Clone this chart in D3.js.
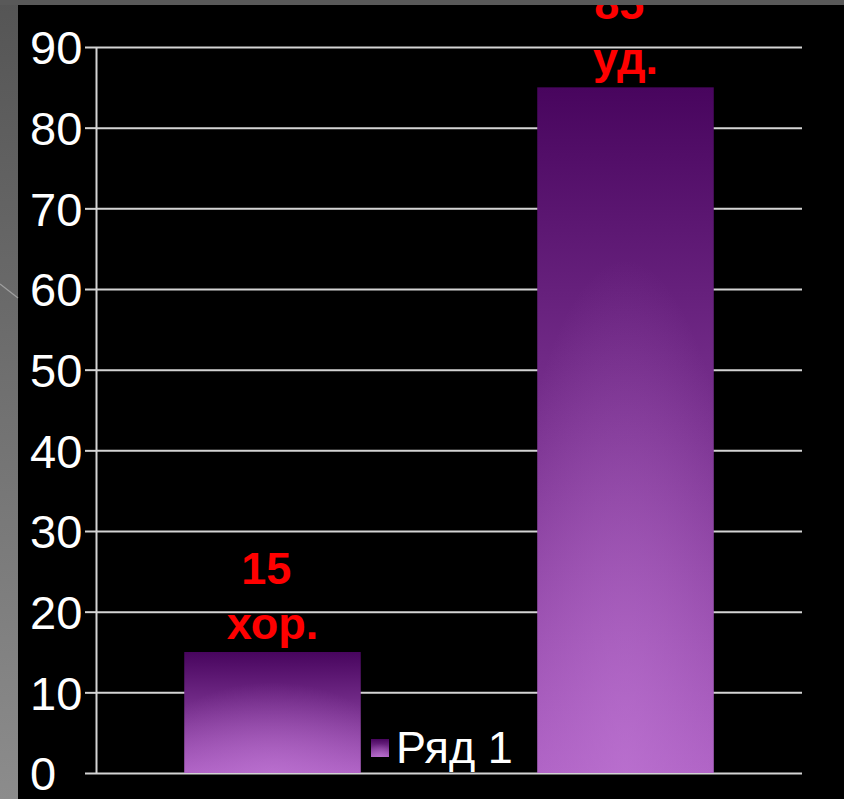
<!DOCTYPE html>
<html>
<head>
<meta charset="utf-8">
<script src="https://cdn.jsdelivr.net/npm/d3@7"></script>
<style>
  html, body { margin: 0; padding: 0; background: #000; }
  svg { display: block; }
  text { font-family: "Liberation Sans", Arial, sans-serif; }
</style>
</head>
<body>
<svg id="chart" width="844" height="799"></svg>
<script>
const categories = ["хор.", "уд."];
const values = [15, 85];
const valueLabels = ["15 ", "85 "];
const yTicks = [0, 10, 20, 30, 40, 50, 60, 70, 80, 90];
const seriesName = "Ряд 1";

(function () {
const W = 844, H = 799;
const svg = d3.select("#chart");

svg.append("rect").attr("width", W).attr("height", H).attr("fill", "#000");

const defs = svg.append("defs");
const lin = defs.append("linearGradient")
  .attr("id", "barLin").attr("x1", 0).attr("y1", 0).attr("x2", 0).attr("y2", 1);
lin.append("stop").attr("offset", "0%").attr("stop-color", "#48055e");
lin.append("stop").attr("offset", "100%").attr("stop-color", "#ad60c3");

const rad = defs.append("radialGradient")
  .attr("id", "barRad")
  .attr("cx", 0.5).attr("cy", 1).attr("r", 0.75)
  .attr("fx", 0.5).attr("fy", 1);
rad.append("stop").attr("offset", "0%").attr("stop-color", "#c27ad6").attr("stop-opacity", 0.55);
rad.append("stop").attr("offset", "100%").attr("stop-color", "#c27ad6").attr("stop-opacity", 0);

const stripGrad = defs.append("linearGradient")
  .attr("id", "stripGrad").attr("x1", 0).attr("y1", 0).attr("x2", 0).attr("y2", 1);
stripGrad.append("stop").attr("offset", "0%").attr("stop-color", "#555555");
stripGrad.append("stop").attr("offset", "100%").attr("stop-color", "#8c8c8c");

const pLeft = 96, pRight = 802, pTop = 47, pBottom = 773;

const y = d3.scaleLinear().domain([0, 90]).range([pBottom, pTop]);
const x = d3.scaleBand().domain(categories).range([pLeft, pRight])
  .paddingInner(0.5).paddingOuter(0.25);

// gridlines
const grid = svg.append("g").attr("transform", `translate(${pLeft},0)`)
  .call(d3.axisLeft(y).tickValues(yTicks).tickSize(-(pRight - pLeft)).tickFormat(""));
grid.select(".domain").remove();
grid.selectAll("line").attr("stroke", "#d4d4d4").attr("stroke-width", 2);

// y axis with tick marks and labels
const axis = svg.append("g").attr("transform", `translate(${pLeft},0)`)
  .call(d3.axisLeft(y).tickValues(yTicks).tickSize(11).tickSizeOuter(0));
axis.select(".domain").attr("stroke", "#d4d4d4").attr("stroke-width", 2);
axis.selectAll(".tick line").attr("stroke", "#d4d4d4").attr("stroke-width", 2);
axis.selectAll(".tick text")
  .attr("x", 30 - pLeft)
  .attr("dy", "0.36em")
  .attr("text-anchor", "start")
  .attr("fill", "#ffffff")
  .attr("font-size", 47)
  .attr("font-family", "'Liberation Sans', Arial, sans-serif");

// bars
const bars = svg.append("g").selectAll("g").data(values).join("g");
bars.append("rect")
  .attr("x", (d, i) => x(categories[i]))
  .attr("y", d => y(d))
  .attr("width", x.bandwidth())
  .attr("height", d => y(0) - y(d))
  .attr("fill", "url(#barLin)");
bars.append("rect")
  .attr("x", (d, i) => x(categories[i]))
  .attr("y", d => y(d))
  .attr("width", x.bandwidth())
  .attr("height", d => y(0) - y(d))
  .attr("fill", "url(#barRad)");

// data labels
const lab = svg.append("g").selectAll("text").data(values).join("text")
  .attr("text-anchor", "middle")
  .attr("fill", "#ff0000")
  .attr("font-weight", "bold")
  .attr("font-size", 45)
  .style("white-space", "pre");
lab.append("tspan")
  .attr("x", (d, i) => x(categories[i]) + x.bandwidth() / 2)
  .attr("y", d => y(d) - 68)
  .text((d, i) => valueLabels[i]);
lab.append("tspan")
  .attr("x", (d, i) => x(categories[i]) + x.bandwidth() / 2)
  .attr("y", d => y(d) - 13)
  .text((d, i) => categories[i]);

// legend
svg.append("rect").attr("x", 371).attr("y", 739).attr("width", 18).attr("height", 18)
  .attr("fill", "url(#barLin)");
svg.append("rect").attr("x", 371).attr("y", 739).attr("width", 18).attr("height", 18)
  .attr("fill", "url(#barRad)");
svg.append("text").attr("x", 396).attr("y", 763)
  .attr("fill", "#ffffff").attr("font-size", 45).text(seriesName);

// slide frame
svg.append("rect").attr("x", 0).attr("y", 0).attr("width", 18).attr("height", H)
  .attr("fill", "url(#stripGrad)");
svg.append("rect").attr("x", 0).attr("y", 0).attr("width", W).attr("height", 5)
  .attr("fill", "#595959");
svg.append("line").attr("x1", 0).attr("y1", 284).attr("x2", 18).attr("y2", 298)
  .attr("stroke", "#a0a0a0").attr("stroke-width", 1.2);
})();
</script>
</body>
</html>
